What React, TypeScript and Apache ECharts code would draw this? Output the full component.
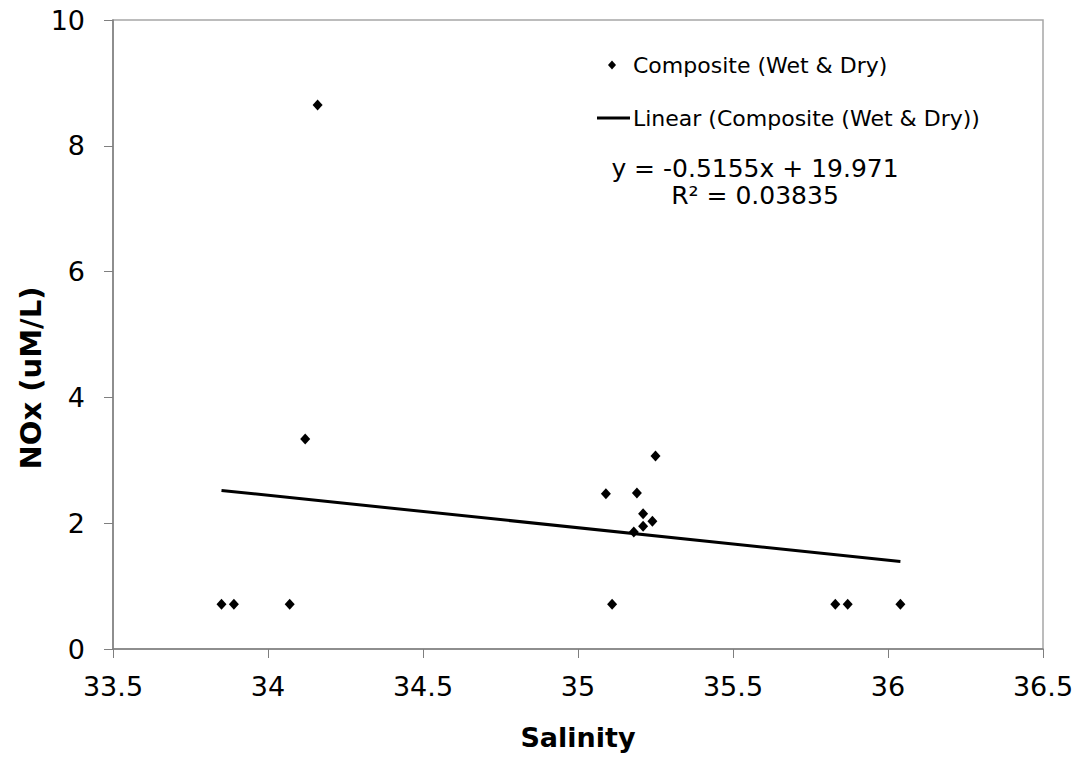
import React, { useEffect, useRef } from "react";
import * as echarts from "echarts";

// Salinity (x) and NOx (uM/L) observations, composite wet & dry season
const salinity: number[] = [
  33.85, 33.89, 34.07, 34.12, 34.16, 35.09, 35.11, 35.18,
  35.19, 35.21, 35.21, 35.24, 35.25, 35.83, 35.87, 36.04,
];
const nox: number[] = [
  0.71, 0.71, 0.71, 3.34, 8.65, 2.47, 0.71, 1.86,
  2.48, 1.95, 2.15, 2.03, 3.07, 0.71, 0.71, 0.71,
];

// Linear trend fitted to the composite series
const trendSlope = -0.5155;
const trendIntercept = 19.971;
const trendR2 = 0.03835;

const xTicks = { min: 33.5, max: 36.5, interval: 0.5 };
const yTicks = { min: 0, max: 10, interval: 2 };

const seriesName = "Composite (Wet & Dry)";
const trendName = "Linear (Composite (Wet & Dry))";

const FONT = "'DejaVu Sans', Verdana, sans-serif";

export default function App() {
  const ref = useRef<HTMLDivElement>(null);

  useEffect(() => {
    if (!ref.current) return;
    const chart = echarts.init(ref.current, null, { renderer: "svg" });

    const points = salinity.map((s, i) => [s, nox[i]]);
    const xMin = Math.min(...salinity);
    const xMax = Math.max(...salinity);
    const trend = [xMin, xMax].map((x) => [x, trendSlope * x + trendIntercept]);

    const eqText = `y = ${trendSlope}x + ${trendIntercept}\nR² = ${trendR2}`;

    const legendText = {
      fontFamily: FONT,
      fontSize: 22,
      fill: "#000",
      align: "left",
      verticalAlign: "middle",
    };

    chart.setOption({
      animation: false,
      backgroundColor: "#ffffff",
      textStyle: { fontFamily: FONT },
      grid: {
        left: 113,
        right: 40,
        top: 20,
        bottom: 109,
        show: true,
        borderColor: "#a6a6a6",
        borderWidth: 1.5,
        backgroundColor: "transparent",
      },
      xAxis: {
        type: "value",
        min: xTicks.min,
        max: xTicks.max,
        interval: xTicks.interval,
        name: "Salinity",
        nameLocation: "middle",
        nameGap: 75,
        nameTextStyle: {
          fontFamily: FONT,
          fontSize: 27,
          fontWeight: "bold",
          color: "#000",
        },
        axisLine: { show: true, onZero: false, lineStyle: { color: "#7f7f7f", width: 1.5 } },
        axisTick: { show: true, inside: false, length: 9, lineStyle: { color: "#7f7f7f", width: 1 } },
        axisLabel: {
          fontFamily: FONT,
          fontSize: 27,
          color: "#000",
          margin: 24,
        },
        splitLine: { show: false },
      },
      yAxis: {
        type: "value",
        min: yTicks.min,
        max: yTicks.max,
        interval: yTicks.interval,
        axisLine: { show: true, onZero: false, lineStyle: { color: "#7f7f7f", width: 1.5 } },
        axisTick: { show: true, inside: false, length: 9, lineStyle: { color: "#7f7f7f", width: 1 } },
        axisLabel: {
          fontFamily: FONT,
          fontSize: 27,
          color: "#000",
          margin: 28,
        },
        splitLine: { show: false },
      },
      graphic: [
        // y-axis title
        {
          type: "text",
          x: 31,
          y: 378,
          rotation: Math.PI / 2,
          style: {
            text: "NOx (uM/L)",
            fontFamily: FONT,
            fontSize: 29,
            fontWeight: "bold",
            fill: "#000",
            align: "center",
            verticalAlign: "middle",
          },
        },
        // legend: scatter entry
        {
          type: "polygon",
          shape: { points: [[612, 60.5], [616, 65], [612, 69.5], [608, 65]] },
          style: { fill: "#000" },
        },
        { type: "text", x: 633, y: 65, style: { ...legendText, text: seriesName } },
        // legend: trend line entry
        {
          type: "line",
          shape: { x1: 597, y1: 118, x2: 630, y2: 118 },
          style: { stroke: "#000", lineWidth: 3 },
        },
        { type: "text", x: 633, y: 118, style: { ...legendText, text: trendName } },
        // trend equation
        {
          type: "text",
          x: 755,
          y: 182,
          style: {
            text: eqText,
            fontFamily: FONT,
            fontSize: 25,
            lineHeight: 27,
            fill: "#000",
            align: "center",
            verticalAlign: "middle",
          },
        },
      ],
      series: [
        {
          name: seriesName,
          type: "scatter",
          symbol: "diamond",
          symbolSize: [10, 11],
          itemStyle: { color: "#000", opacity: 1 },
          data: points,
          z: 3,
        },
        {
          name: trendName,
          type: "line",
          showSymbol: false,
          symbol: "none",
          lineStyle: { color: "#000", width: 3 },
          itemStyle: { color: "#000" },
          data: trend,
          z: 2,
        },
      ],
    });

    return () => chart.dispose();
  }, []);

  return (
    <div
      ref={ref}
      style={{ position: "absolute", left: 0, top: 0, width: 1083, height: 758 }}
    />
  );
}
